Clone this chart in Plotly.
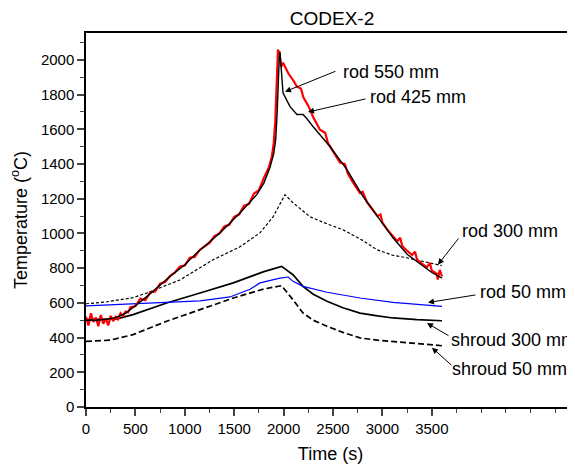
import plotly.graph_objects as go

# ---- data ----
t_red = [0, 25, 50, 75, 100, 125, 150, 175, 200, 225, 250, 275, 300, 325, 350, 375, 400, 425, 450,
         500, 550, 600, 650, 700, 750, 800, 850, 900, 950, 1000, 1050, 1100, 1150, 1200, 1250, 1300,
         1350, 1400, 1450, 1500, 1550, 1600, 1650, 1700, 1750, 1800, 1850, 1880, 1900, 1915, 1925,
         1935, 1943, 1960, 1975, 1994, 2050, 2100, 2135, 2175, 2200, 2250, 2300, 2368, 2420, 2450,
         2500, 2570, 2620, 2650, 2700, 2773, 2800, 2844, 2900, 2950, 2980, 3000, 3050, 3107, 3150,
         3180, 3200, 3250, 3300, 3330, 3350, 3400, 3450, 3480, 3500, 3550, 3560, 3580, 3603]
T_red = [520, 470, 540, 490, 515, 465, 530, 480, 510, 470, 525, 495, 520, 505, 540, 525, 550, 545, 575,
         580, 625, 615, 660, 665, 710, 720, 755, 775, 810, 815, 860, 865, 905, 925, 945, 985,
         1000, 1040, 1050, 1095, 1110, 1160, 1170, 1230, 1250, 1320, 1380, 1440, 1520, 1640, 1760,
         1900, 2059, 2030, 1960, 1984, 1920, 1880, 1846, 1835, 1785, 1735, 1670, 1598, 1580, 1520,
         1470, 1408, 1400, 1345, 1295, 1232, 1240, 1180, 1138, 1100, 1110, 1062, 1022, 982, 955,
         975, 928, 900, 876, 895, 850, 826, 805, 830, 785, 768, 735, 790, 752]

t_rod550 = [0, 100, 200, 300, 400, 500, 615, 850, 1000, 1120, 1356, 1558, 1730, 1800, 1862, 1900, 1920,
            1935, 1945, 1955, 1963, 1975, 1985, 1994, 2030, 2065, 2135, 2196, 2230, 2297, 2469, 2641,
            2803, 2950, 3107, 3250, 3400, 3500, 3603]
T_rod550 = [500, 500, 505, 515, 540, 585, 636, 752, 820, 888, 1003, 1118, 1225, 1290, 1380, 1460, 1540,
            1700, 1900, 2000, 2048, 1950, 1850, 1811, 1770, 1731, 1685, 1685, 1665, 1616, 1501, 1368,
            1213, 1095, 975, 880, 815, 775, 742]

t_rod300 = [0, 200, 476, 615, 950, 1285, 1558, 1760, 1893, 1960, 2014, 2095, 2267, 2440, 2601, 2800,
            2945, 3100, 3248, 3400, 3562, 3600]
T_rod300 = [595, 605, 630, 657, 732, 848, 923, 1003, 1096, 1170, 1223, 1177, 1096, 1055, 1021, 960,
            906, 875, 860, 840, 820, 815]

t_rod50 = [0, 243, 648, 1154, 1457, 1660, 1761, 1828, 1963, 2046, 2095, 2196, 2439, 2773, 3107, 3603]
T_rod50 = [583, 589, 603, 612, 634, 678, 715, 724, 743, 749, 724, 695, 661, 628, 603, 580]

t_sh300 = [0, 314, 476, 816, 1154, 1491, 1800, 1980, 2095, 2196, 2300, 2439, 2600, 2773, 2950, 3107,
           3350, 3603]
T_sh300 = [503, 508, 532, 599, 657, 715, 780, 810, 762, 695, 650, 609, 572, 541, 525, 513, 503, 497]

t_sh50 = [0, 243, 476, 816, 1154, 1491, 1800, 1980, 2095, 2196, 2300, 2439, 2600, 2773, 2950, 3107,
          3350, 3603]
T_sh50 = [378, 385, 417, 494, 561, 628, 680, 699, 618, 542, 500, 465, 430, 398, 385, 378, 365, 353]

x_ticks = [0, 500, 1000, 1500, 2000, 2500, 3000, 3500]
y_ticks = [0, 200, 400, 600, 800, 1000, 1200, 1400, 1600, 1800, 2000]

labels = ["rod 550 mm", "rod 425 mm", "rod 300 mm", "rod 50 mm", "shroud 300 mm", "shroud 50 mm"]
label_pos = [(2581, 1933), (2854, 1788), (3785, 1012), (3965, 660), (3674, 388), (3684, 221)]
arrow_tail = [(2540, 1938), (2844, 1777), (3785, 982), (3957, 647), (3684, 406), (3714, 233)]
arrow_head = [(2014, 1817), (2247, 1700), (3562, 820), (3461, 602), (3451, 484), (3501, 342)]

FONT = "Liberation Sans, Arial, sans-serif"

# page has an 8px body margin, so the figure is placed at (8, 8) in the 575x471 window
W, H = 567, 463

fig = go.Figure()
fig.add_trace(go.Scatter(x=t_rod300, y=T_rod300, mode="lines",
                         line=dict(color="black", width=1.2, dash="3px,2px")))
fig.add_trace(go.Scatter(x=t_sh50, y=T_sh50, mode="lines",
                         line=dict(color="black", width=1.7, dash="6px,3px")))
fig.add_trace(go.Scatter(x=t_sh300, y=T_sh300, mode="lines",
                         line=dict(color="black", width=1.7)))
fig.add_trace(go.Scatter(x=t_rod50, y=T_rod50, mode="lines",
                         line=dict(color="#0000ff", width=1.2)))
fig.add_trace(go.Scatter(x=t_red, y=T_red, mode="lines",
                         line=dict(color="#ff0000", width=2.2)))
fig.add_trace(go.Scatter(x=t_rod550, y=T_rod550, mode="lines",
                         line=dict(color="black", width=1.4)))

annotations = []
for (hx, hy), (tx, ty) in zip(arrow_head, arrow_tail):
    annotations.append(dict(x=hx, y=hy, ax=tx, ay=ty, xref="x", yref="y", axref="x", ayref="y",
                            text=" ", showarrow=True, arrowhead=2, arrowsize=1.2, arrowwidth=1,
                            arrowcolor="black", font=dict(size=1)))
for txt, (lx, ly) in zip(labels, label_pos):
    annotations.append(dict(x=lx, y=ly, xref="x", yref="y", text=txt, showarrow=False,
                            xanchor="left", yanchor="middle",
                            font=dict(family=FONT, size=18, color="black")))

fig.update_layout(
    width=W, height=H,
    margin=dict(l=78, r=0, t=25, b=64, autoexpand=False),
    paper_bgcolor="white", plot_bgcolor="white",
    showlegend=False,
    font=dict(family=FONT, color="black"),
    title=dict(text="CODEX-2", x=324 / W, xanchor="center", y=1 - 10 / H, yanchor="middle",
               font=dict(family=FONT, size=19, color="black")),
    xaxis=dict(range=[0, 4949], tickvals=x_ticks, ticks="outside", ticklen=7, tickwidth=1.5,
               showline=True, linewidth=1.5, linecolor="black", mirror=True, showgrid=False,
               zeroline=False, tickfont=dict(size=15), automargin=False,
               minor=dict(dtick=250, tick0=0, ticks="outside", ticklen=4, tickwidth=1.2,
                          showgrid=False),
               title=dict(text="Time (s)", font=dict(size=18), standoff=12)),
    yaxis=dict(range=[0, 2155], tickvals=y_ticks, ticks="outside", ticklen=7, tickwidth=1.5,
               showline=True, linewidth=1.5, linecolor="black", showgrid=False, zeroline=False,
               tickfont=dict(size=15), automargin=False,
               minor=dict(dtick=100, tick0=0, ticks="outside", ticklen=4, tickwidth=1.2,
                          showgrid=False),
               title=dict(text="Temperature (<sup>o</sup>C)", font=dict(size=18), standoff=10)),
    annotations=annotations,
)

fig.write_html("out.html")
